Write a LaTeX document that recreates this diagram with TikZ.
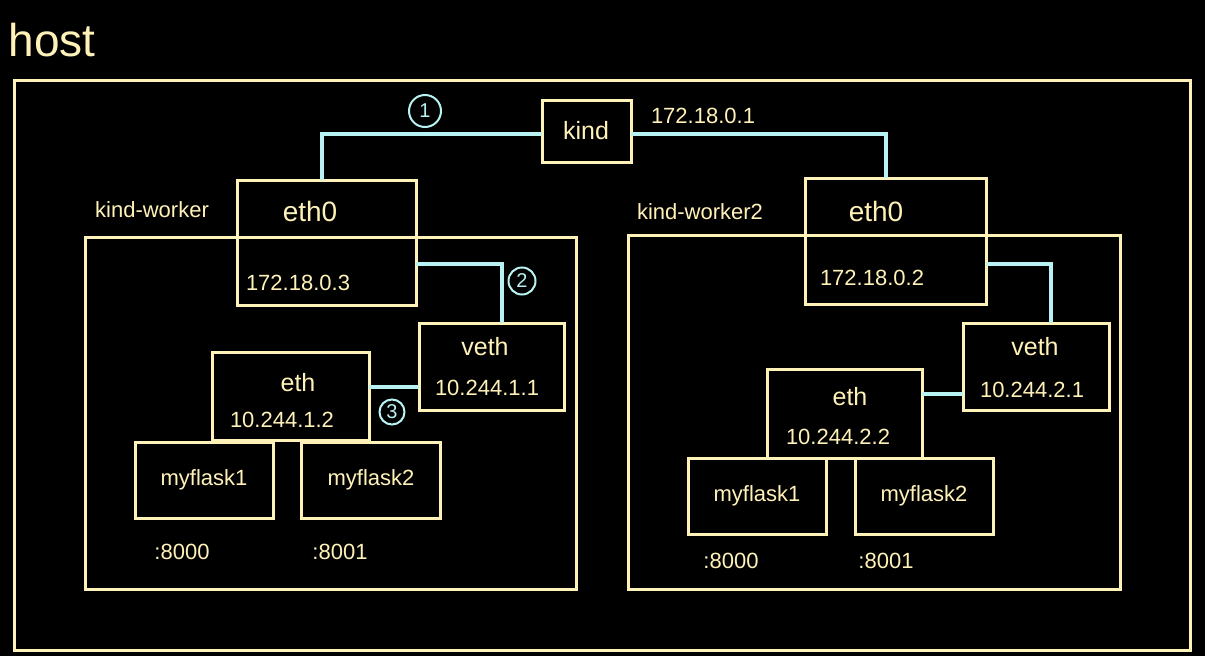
\documentclass[tikz,border=0pt]{standalone}
\usepackage{fontspec}
\setmainfont{Liberation Sans}
\usetikzlibrary{calc}
\definecolor{ylw}{HTML}{FFF2B8}
\definecolor{cyn}{HTML}{B8F2F2}
\begin{document}
\begin{tikzpicture}[x=1pt,y=-1pt,
  box/.style={draw=ylw, line width=3pt, inner sep=0pt, outer sep=0pt, anchor=north west},
  wire/.style={draw=cyn, line width=3.5pt},
  num/.style={draw=cyn, text=cyn, circle, line width=2pt, inner sep=0pt, font=\fontsize{20}{20}\selectfont},
  lbl/.style={text=ylw, inner sep=0pt, font=\fontsize{22}{22}\selectfont},
  big/.style={text=ylw, inner sep=0pt, font=\fontsize{28}{28}\selectfont},
]
\fill[black] (0,0) rectangle (1205,656);
\useasboundingbox (0,0) rectangle (1205,656);

% host
\node[box, minimum width=1176pt, minimum height=570pt] (host) at (14,80) {};
\node[text=ylw, inner sep=0pt, font=\fontsize{46}{46}\selectfont] (hostl) at (52,40) {host};

% kind
\node[box, minimum width=89pt, minimum height=62pt] (kind) at (542,100) {};
\node[lbl, font=\fontsize{25}{25}\selectfont] (kindl) at (586,131) {kind};
\node[lbl] (kindip) at (703,116) {172.18.0.1};
\node[num, minimum size=32pt] (n1) at (425,111) {1};

% left worker
\node[box, minimum width=491pt, minimum height=352pt] (wL) at (85,237) {};
\node[lbl] (wLl) at (152,210) {kind-worker};
\node[box, minimum width=179pt, minimum height=125pt] (eth0L) at (237,180) {};
\node[big] (eth0Ll) at (310,211) {eth0};
\node[lbl] (eth0Lip) at (298,283) {172.18.0.3};
\node[box, minimum width=145pt, minimum height=87pt] (vethL) at (419,323) {};
\node[lbl, font=\fontsize{25}{25}\selectfont] (vethLl) at (485,347) {veth};
\node[lbl] (vethLip) at (487,388) {10.244.1.1};
\node[box, minimum width=157pt, minimum height=88pt] (ethL) at (212,352) {};
\node[lbl, font=\fontsize{25}{25}\selectfont] (ethLl) at (298,383) {eth};
\node[lbl] (ethLip) at (282,420) {10.244.1.2};
\node[box, minimum width=138pt, minimum height=76pt] (f1L) at (135,442) {};
\node[lbl] (f1Ll) at (204,480) {myflask1};
\node[box, minimum width=139pt, minimum height=76pt] (f2L) at (301,442) {};
\node[lbl] (f2Ll) at (371,480) {myflask2};
\node[lbl] (p1L) at (182,552) {:8000};
\node[lbl] (p2L) at (340,552) {:8001};
\node[num, minimum size=27pt] (n2) at (522,281) {2};
\node[num, minimum size=25pt] (n3) at (392,412) {3};

% right worker
\node[box, minimum width=492pt, minimum height=354pt] (wR) at (628,235) {};
\node[lbl] (wRl) at (700,212) {kind-worker2};
\node[box, minimum width=181pt, minimum height=126pt] (eth0R) at (805,178) {};
\node[big] (eth0Rl) at (876,211) {eth0};
\node[lbl] (eth0Rip) at (872,278) {172.18.0.2};
\node[box, minimum width=146pt, minimum height=87pt] (vethR) at (963,323) {};
\node[lbl, font=\fontsize{25}{25}\selectfont] (vethRl) at (1035,347) {veth};
\node[lbl] (vethRip) at (1032,390) {10.244.2.1};
\node[box, minimum width=155pt, minimum height=89pt] (ethR) at (767,369) {};
\node[lbl, font=\fontsize{25}{25}\selectfont] (ethRl) at (850,397) {eth};
\node[lbl] (ethRip) at (838,437) {10.244.2.2};
\node[box, minimum width=138pt, minimum height=76pt] (f1R) at (688,458) {};
\node[lbl] (f1Rl) at (757,496) {myflask1};
\node[box, minimum width=138pt, minimum height=76pt] (f2R) at (855,458) {};
\node[lbl] (f2Rl) at (924,496) {myflask2};
\node[lbl] (p1R) at (731,561) {:8000};
\node[lbl] (p2R) at (886,561) {:8001};

% wires
\draw[wire] ($(kind.west)+(0,3)$) -| ($(eth0L.north west)+(85,0)$);
\draw[wire] ($(kind.east)+(0,3)$) -| ($(eth0R.north west)+(81,0)$);
\draw[wire] ($(eth0L.east)+(0,21.5)$) -| ($(vethL.north)+(10.5,0)$);
\draw[wire] ($(eth0R.east)+(0,23)$) -| ($(vethR.north)+(15,0)$);
\draw[wire] ($(ethL.east)+(0,-9)$) coordinate (t3) -- (t3 -| vethL.west);
\draw[wire] ($(ethR.east)+(0,-19.5)$) coordinate (t4) -- (t4 -| vethR.west);
\end{tikzpicture}
\end{document}
